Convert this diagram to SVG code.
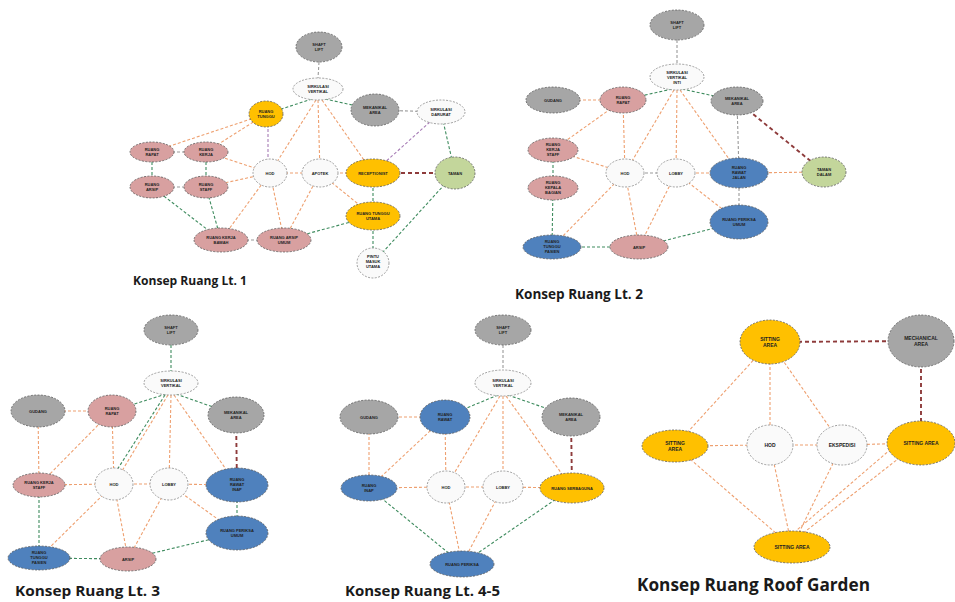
<svg xmlns="http://www.w3.org/2000/svg" width="955" height="602" viewBox="0 0 955 602">
<style>
.bg{fill:#ffffff}
ellipse{stroke:#5a5a5a;stroke-width:0.8;stroke-dasharray:2 1.4}
.g{fill:#a6a6a6}
.p{fill:#d8a0a0}
.y{fill:#ffc000}
.b{fill:#4f81bd}
.gr{fill:#c3d69b}
.w{fill:#fafafa;stroke:#888}
line{fill:none;stroke-width:1.1;stroke-dasharray:3 2}
.eo{stroke:#eea070}
.eg{stroke:#3f8c5f}
.ex{stroke:#9a9a9a}
.er{stroke:#8e3b3b;stroke-width:1.9;stroke-dasharray:4 3}
.ep{stroke:#a67bb5}
.t{font-family:"Liberation Sans",Arial,sans-serif;font-size:4px;fill:#222;text-anchor:middle;font-weight:bold}
.tr{font-family:"Liberation Sans",Arial,sans-serif;font-size:5px;fill:#222;text-anchor:middle;font-weight:bold}
.lbl{font-family:"Open Sans","Liberation Sans",Arial,sans-serif;font-weight:bold;fill:#1a1a1a}
</style>
<rect class="bg" width="955" height="602"/>

<g id="connectors">
<!-- Lt 1 -->
<line class="ex" x1="319" y1="62" x2="318" y2="78"/>
<line class="eg" x1="312" y1="99" x2="266" y2="114"/>
<line class="eg" x1="325" y1="99" x2="375" y2="110"/>
<line class="eo" x1="316" y1="100" x2="270" y2="173"/>
<line class="eo" x1="318" y1="100" x2="320" y2="173"/>
<line class="eo" x1="322" y1="100" x2="373" y2="173"/>
<line class="ex" x1="375" y1="110" x2="441" y2="112"/>
<line class="ep" x1="441" y1="112" x2="373" y2="173"/>
<line class="eg" x1="441" y1="112" x2="455" y2="173"/>
<line class="eo" x1="266" y1="114" x2="152" y2="152"/>
<line class="eo" x1="266" y1="114" x2="206" y2="152"/>
<line class="ep" x1="268" y1="114" x2="268" y2="173"/>
<line class="ex" x1="152" y1="152" x2="206" y2="152"/>
<line class="eg" x1="152" y1="152" x2="152" y2="187"/>
<line class="eg" x1="206" y1="152" x2="206" y2="187"/>
<line class="ex" x1="152" y1="187" x2="206" y2="187"/>
<line class="eo" x1="206" y1="152" x2="270" y2="173"/>
<line class="eo" x1="206" y1="187" x2="270" y2="173"/>
<line class="eo" x1="270" y1="173" x2="320" y2="173"/>
<line class="eo" x1="320" y1="173" x2="373" y2="173"/>
<line class="er" x1="373" y1="173" x2="455" y2="173"/>
<line class="eg" x1="373" y1="173" x2="373" y2="216"/>
<line class="eg" x1="373" y1="216" x2="373" y2="263"/>
<line class="eg" x1="455" y1="173" x2="373" y2="263"/>
<line class="eg" x1="373" y1="216" x2="284" y2="240"/>
<line class="eg" x1="152" y1="187" x2="221" y2="240"/>
<line class="eg" x1="206" y1="187" x2="221" y2="240"/>
<line class="eo" x1="270" y1="173" x2="221" y2="240"/>
<line class="eo" x1="270" y1="173" x2="284" y2="240"/>
<line class="eo" x1="320" y1="173" x2="284" y2="240"/>
<line class="eo" x1="320" y1="173" x2="373" y2="216"/>
<line class="ex" x1="221" y1="240" x2="284" y2="240"/>

<!-- Lt 2 -->
<line class="ex" x1="677" y1="40" x2="677" y2="64"/>
<line class="eg" x1="672" y1="89" x2="623" y2="100"/>
<line class="eg" x1="682" y1="89" x2="737" y2="101"/>
<line class="eo" x1="674" y1="90" x2="625" y2="173"/>
<line class="eo" x1="677" y1="90" x2="676" y2="173"/>
<line class="eo" x1="680" y1="90" x2="739" y2="173"/>
<line class="eo" x1="553" y1="100" x2="623" y2="100"/>
<line class="eo" x1="623" y1="100" x2="553" y2="150"/>
<line class="eo" x1="623" y1="100" x2="625" y2="173"/>
<line class="ex" x1="737" y1="101" x2="739" y2="173"/>
<line class="er" x1="737" y1="101" x2="824" y2="172"/>
<line class="eg" x1="553" y1="150" x2="553" y2="188"/>
<line class="eg" x1="553" y1="188" x2="552" y2="247"/>
<line class="eo" x1="553" y1="150" x2="625" y2="173"/>
<line class="ex" x1="625" y1="173" x2="676" y2="173"/>
<line class="eo" x1="676" y1="173" x2="739" y2="173"/>
<line class="eo" x1="739" y1="173" x2="824" y2="172"/>
<line class="ex" x1="739" y1="173" x2="739" y2="222"/>
<line class="eo" x1="625" y1="173" x2="552" y2="247"/>
<line class="eo" x1="625" y1="173" x2="639" y2="247"/>
<line class="eo" x1="676" y1="173" x2="639" y2="247"/>
<line class="eo" x1="676" y1="173" x2="739" y2="222"/>
<line class="eg" x1="552" y1="247" x2="639" y2="247"/>
<line class="eg" x1="639" y1="247" x2="739" y2="222"/>

<!-- Lt 3 -->
<line class="eg" x1="171" y1="345" x2="171" y2="371"/>
<line class="eg" x1="166" y1="394" x2="112" y2="411"/>
<line class="eg" x1="176" y1="394" x2="236" y2="415"/>
<line class="eo" x1="168" y1="395" x2="114" y2="484"/>
<line class="eg" x1="165" y1="395" x2="108" y2="484"/>
<line class="eo" x1="171" y1="395" x2="169" y2="484"/>
<line class="eo" x1="174" y1="395" x2="237" y2="485"/>
<line class="eo" x1="38" y1="411" x2="112" y2="411"/>
<line class="eo" x1="38" y1="411" x2="39" y2="485"/>
<line class="eo" x1="112" y1="411" x2="39" y2="485"/>
<line class="eo" x1="112" y1="411" x2="114" y2="484"/>
<line class="er" x1="236" y1="415" x2="237" y2="485"/>
<line class="eo" x1="39" y1="485" x2="114" y2="484"/>
<line class="eo" x1="114" y1="484" x2="169" y2="484"/>
<line class="eo" x1="169" y1="484" x2="237" y2="485"/>
<line class="eg" x1="39" y1="485" x2="39" y2="558"/>
<line class="eo" x1="114" y1="484" x2="39" y2="558"/>
<line class="eo" x1="114" y1="484" x2="128" y2="559"/>
<line class="eo" x1="169" y1="484" x2="128" y2="559"/>
<line class="eo" x1="169" y1="484" x2="237" y2="533"/>
<line class="eg" x1="237" y1="485" x2="237" y2="533"/>
<line class="eg" x1="39" y1="558" x2="128" y2="559"/>
<line class="eg" x1="128" y1="559" x2="237" y2="533"/>

<!-- Lt 4-5 -->
<line class="ex" x1="503" y1="345" x2="503" y2="370"/>
<line class="eg" x1="498" y1="395" x2="445" y2="417"/>
<line class="eg" x1="508" y1="395" x2="571" y2="417"/>
<line class="eo" x1="500" y1="396" x2="446" y2="487"/>
<line class="eo" x1="503" y1="396" x2="503" y2="487"/>
<line class="eo" x1="506" y1="396" x2="572" y2="488"/>
<line class="eo" x1="369" y1="417" x2="445" y2="417"/>
<line class="eo" x1="369" y1="417" x2="369" y2="488"/>
<line class="eo" x1="445" y1="417" x2="369" y2="488"/>
<line class="eo" x1="445" y1="417" x2="446" y2="487"/>
<line class="er" x1="571" y1="417" x2="572" y2="488"/>
<line class="eo" x1="369" y1="488" x2="446" y2="487"/>
<line class="eo" x1="446" y1="487" x2="503" y2="487"/>
<line class="eo" x1="503" y1="487" x2="572" y2="488"/>
<line class="eg" x1="369" y1="488" x2="462" y2="564"/>
<line class="eo" x1="446" y1="487" x2="462" y2="564"/>
<line class="eo" x1="503" y1="487" x2="462" y2="564"/>
<line class="eg" x1="572" y1="488" x2="462" y2="564"/>

<!-- Roof Garden -->
<line class="er" x1="770" y1="342" x2="921" y2="341"/>
<line class="er" x1="921" y1="341" x2="921" y2="443"/>
<line class="eo" x1="770" y1="342" x2="675" y2="446"/>
<line class="eo" x1="770" y1="342" x2="770" y2="445"/>
<line class="eo" x1="770" y1="342" x2="842" y2="445"/>
<line class="eo" x1="675" y1="446" x2="770" y2="445"/>
<line class="eo" x1="770" y1="445" x2="842" y2="445"/>
<line class="eo" x1="842" y1="445" x2="921" y2="443"/>
<line class="eo" x1="675" y1="446" x2="792" y2="547"/>
<line class="eo" x1="770" y1="445" x2="792" y2="547"/>
<line class="eo" x1="842" y1="445" x2="792" y2="547"/>
<line class="eo" x1="906" y1="436" x2="797" y2="530"/>
<line class="eo" x1="912" y1="448" x2="802" y2="534"/>
</g>

<!-- ===== Lt 1 nodes ===== -->
<g id="l1-shaft"><ellipse class="g" cx="319" cy="47" rx="23" ry="15"/><text class="t" x="319" y="46">SHAFT</text><text class="t" x="319" y="51">LIFT</text></g>
<g id="l1-sirkulasi"><ellipse class="w" cx="318" cy="89" rx="25" ry="11"/><text class="t" x="318" y="88">SIRKULASI</text><text class="t" x="318" y="93">VERTIKAL</text></g>
<g id="l1-tunggu"><ellipse class="y" cx="266" cy="114" rx="17" ry="13"/><text class="t" x="266" y="113">RUANG</text><text class="t" x="266" y="118">TUNGGU</text></g>
<g id="l1-mekanikal"><ellipse class="g" cx="375" cy="110" rx="24" ry="16"/><text class="t" x="375" y="109">MEKANIKAL</text><text class="t" x="375" y="114">AREA</text></g>
<g id="l1-darurat"><ellipse class="w" cx="441" cy="112" rx="24" ry="12"/><text class="t" x="441" y="111">SIRKULASI</text><text class="t" x="441" y="116">DARURAT</text></g>
<g id="l1-p1"><ellipse class="p" cx="152" cy="152" rx="22" ry="10"/><text class="t" x="152" y="151">RUANG</text><text class="t" x="152" y="156">RAPAT</text></g>
<g id="l1-p2"><ellipse class="p" cx="206" cy="152" rx="22" ry="10"/><text class="t" x="206" y="151">RUANG</text><text class="t" x="206" y="156">KERJA</text></g>
<g id="l1-p3"><ellipse class="p" cx="152" cy="187" rx="22" ry="11"/><text class="t" x="152" y="186">RUANG</text><text class="t" x="152" y="191">ARSIP</text></g>
<g id="l1-p4"><ellipse class="p" cx="206" cy="187" rx="22" ry="11"/><text class="t" x="206" y="186">RUANG</text><text class="t" x="206" y="191">STAFF</text></g>
<g id="l1-hod"><ellipse class="w" cx="270" cy="173" rx="17" ry="14"/><text class="t" x="270" y="174.5">HOD</text></g>
<g id="l1-apotek"><ellipse class="w" cx="320" cy="173" rx="18" ry="14"/><text class="t" x="320" y="174.5">APOTEK</text></g>
<g id="l1-recep"><ellipse class="y" cx="373" cy="173" rx="27" ry="14"/><text class="t" x="373" y="174.5">RECEPTIONIST</text></g>
<g id="l1-taman"><ellipse class="gr" cx="455" cy="173" rx="20" ry="16"/><text class="t" x="455" y="174.5">TAMAN</text></g>
<g id="l1-tunggu2"><ellipse class="y" cx="373" cy="216" rx="27" ry="14"/><text class="t" x="373" y="215">RUANG TUNGGU</text><text class="t" x="373" y="220">UTAMA</text></g>
<g id="l1-p5"><ellipse class="p" cx="221" cy="240" rx="27" ry="12"/><text class="t" x="221" y="239">RUANG KERJA</text><text class="t" x="221" y="244">BAWAH</text></g>
<g id="l1-p6"><ellipse class="p" cx="284" cy="240" rx="27" ry="12"/><text class="t" x="284" y="239">RUANG ARSIP</text><text class="t" x="284" y="244">UMUM</text></g>
<g id="l1-entry"><ellipse class="w" cx="373" cy="263" rx="16" ry="15"/><text class="t" x="373" y="258">PINTU</text><text class="t" x="373" y="263">MASUK</text><text class="t" x="373" y="268">UTAMA</text></g>

<!-- ===== Lt 2 nodes ===== -->
<g id="l2-shaft"><ellipse class="g" cx="677" cy="25" rx="27" ry="15"/><text class="t" x="677" y="24">SHAFT</text><text class="t" x="677" y="29">LIFT</text></g>
<g id="l2-sirkulasi"><ellipse class="w" cx="677" cy="77" rx="27" ry="13"/><text class="t" x="677" y="74">SIRKULASI</text><text class="t" x="677" y="79">VERTIKAL</text><text class="t" x="677" y="84">INTI</text></g>
<g id="l2-gl"><ellipse class="g" cx="553" cy="100" rx="27" ry="13"/><text class="t" x="553" y="101.5">GUDANG</text></g>
<g id="l2-pt"><ellipse class="p" cx="623" cy="100" rx="23" ry="13"/><text class="t" x="623" y="99">RUANG</text><text class="t" x="623" y="104">RAPAT</text></g>
<g id="l2-gr"><ellipse class="g" cx="737" cy="101" rx="26" ry="14"/><text class="t" x="737" y="100">MEKANIKAL</text><text class="t" x="737" y="105">AREA</text></g>
<g id="l2-p1"><ellipse class="p" cx="553" cy="150" rx="25" ry="12"/><text class="t" x="553" y="146">RUANG</text><text class="t" x="553" y="151">KERJA</text><text class="t" x="553" y="156">STAFF</text></g>
<g id="l2-p2"><ellipse class="p" cx="553" cy="188" rx="25" ry="12"/><text class="t" x="553" y="184">RUANG</text><text class="t" x="553" y="189">KEPALA</text><text class="t" x="553" y="194">BAGIAN</text></g>
<g id="l2-hod"><ellipse class="w" cx="625" cy="173" rx="19" ry="14"/><text class="t" x="625" y="174.5">HOD</text></g>
<g id="l2-apotek"><ellipse class="w" cx="676" cy="173" rx="19" ry="14"/><text class="t" x="676" y="174.5">LOBBY</text></g>
<g id="l2-b1"><ellipse class="b" cx="739" cy="173" rx="29" ry="15"/><text class="t" x="739" y="169">RUANG</text><text class="t" x="739" y="174">RAWAT</text><text class="t" x="739" y="179">JALAN</text></g>
<g id="l2-green"><ellipse class="gr" cx="824" cy="172" rx="22" ry="15"/><text class="t" x="824" y="171">TAMAN</text><text class="t" x="824" y="176">DALAM</text></g>
<g id="l2-b2"><ellipse class="b" cx="739" cy="222" rx="29" ry="17"/><text class="t" x="739" y="221">RUANG PERIKSA</text><text class="t" x="739" y="226">UMUM</text></g>
<g id="l2-b3"><ellipse class="b" cx="552" cy="247" rx="29" ry="12"/><text class="t" x="552" y="243">RUANG</text><text class="t" x="552" y="248">TUNGGU</text><text class="t" x="552" y="253">PASIEN</text></g>
<g id="l2-p3"><ellipse class="p" cx="639" cy="247" rx="29" ry="12"/><text class="t" x="639" y="248.5">ARSIP</text></g>

<!-- ===== Lt 3 nodes ===== -->
<g id="l3-shaft"><ellipse class="g" cx="171" cy="330" rx="27" ry="15"/><text class="t" x="171" y="329">SHAFT</text><text class="t" x="171" y="334">LIFT</text></g>
<g id="l3-sirkulasi"><ellipse class="w" cx="171" cy="383" rx="27" ry="12"/><text class="t" x="171" y="382">SIRKULASI</text><text class="t" x="171" y="387">VERTIKAL</text></g>
<g id="l3-gl"><ellipse class="g" cx="38" cy="411" rx="27" ry="16"/><text class="t" x="38" y="412.5">GUDANG</text></g>
<g id="l3-pt"><ellipse class="p" cx="112" cy="411" rx="24" ry="16"/><text class="t" x="112" y="410">RUANG</text><text class="t" x="112" y="415">RAPAT</text></g>
<g id="l3-gr"><ellipse class="g" cx="236" cy="415" rx="28" ry="18"/><text class="t" x="236" y="414">MEKANIKAL</text><text class="t" x="236" y="419">AREA</text></g>
<g id="l3-pl"><ellipse class="p" cx="39" cy="485" rx="26" ry="12"/><text class="t" x="39" y="484">RUANG KERJA</text><text class="t" x="39" y="489">STAFF</text></g>
<g id="l3-hod"><ellipse class="w" cx="114" cy="484" rx="19" ry="16"/><text class="t" x="114" y="485.5">HOD</text></g>
<g id="l3-lobby"><ellipse class="w" cx="169" cy="484" rx="19" ry="16"/><text class="t" x="169" y="485.5">LOBBY</text></g>
<g id="l3-b1"><ellipse class="b" cx="237" cy="485" rx="31" ry="17"/><text class="t" x="237" y="481">RUANG</text><text class="t" x="237" y="486">RAWAT</text><text class="t" x="237" y="491">INAP</text></g>
<g id="l3-b2"><ellipse class="b" cx="237" cy="533" rx="31" ry="17"/><text class="t" x="237" y="532">RUANG PERIKSA</text><text class="t" x="237" y="537">UMUM</text></g>
<g id="l3-b3"><ellipse class="b" cx="39" cy="558" rx="31" ry="12"/><text class="t" x="39" y="554">RUANG</text><text class="t" x="39" y="559">TUNGGU</text><text class="t" x="39" y="564">PASIEN</text></g>
<g id="l3-pb"><ellipse class="p" cx="128" cy="559" rx="28" ry="12"/><text class="t" x="128" y="560.5">ARSIP</text></g>

<!-- ===== Lt 4-5 nodes ===== -->
<g id="l4-shaft"><ellipse class="g" cx="503" cy="330" rx="28" ry="15"/><text class="t" x="503" y="329">SHAFT</text><text class="t" x="503" y="334">LIFT</text></g>
<g id="l4-sirkulasi"><ellipse class="w" cx="503" cy="383" rx="28" ry="13"/><text class="t" x="503" y="382">SIRKULASI</text><text class="t" x="503" y="387">VERTIKAL</text></g>
<g id="l4-gl"><ellipse class="g" cx="369" cy="417" rx="29" ry="17"/><text class="t" x="369" y="418.5">GUDANG</text></g>
<g id="l4-bt"><ellipse class="b" cx="445" cy="417" rx="25" ry="17"/><text class="t" x="445" y="416">RUANG</text><text class="t" x="445" y="421">RAWAT</text></g>
<g id="l4-gr"><ellipse class="g" cx="571" cy="417" rx="29" ry="19"/><text class="t" x="571" y="416">MEKANIKAL</text><text class="t" x="571" y="421">AREA</text></g>
<g id="l4-bl"><ellipse class="b" cx="369" cy="488" rx="28" ry="13"/><text class="t" x="369" y="487">RUANG</text><text class="t" x="369" y="492">INAP</text></g>
<g id="l4-hod"><ellipse class="w" cx="446" cy="487" rx="19" ry="16"/><text class="t" x="446" y="488.5">HOD</text></g>
<g id="l4-lobby"><ellipse class="w" cx="503" cy="487" rx="20" ry="16"/><text class="t" x="503" y="488.5">LOBBY</text></g>
<g id="l4-y"><ellipse class="y" cx="572" cy="488" rx="32" ry="15"/><text class="t" x="572" y="489.5">RUANG SERBAGUNA</text></g>
<g id="l4-bb"><ellipse class="b" cx="462" cy="564" rx="32" ry="13"/><text class="t" x="462" y="565.5">RUANG PERIKSA</text></g>

<!-- ===== Roof Garden nodes ===== -->
<g id="rg-top"><ellipse class="y" cx="770" cy="342" rx="30" ry="22"/><text class="tr" x="770" y="341">SITTING</text><text class="tr" x="770" y="347">AREA</text></g>
<g id="rg-mech"><ellipse class="g" cx="921" cy="341" rx="33" ry="26"/><text class="tr" x="921" y="340">MECHANICAL</text><text class="tr" x="921" y="346">AREA</text></g>
<g id="rg-left"><ellipse class="y" cx="675" cy="446" rx="33" ry="16"/><text class="tr" x="675" y="445">SITTING</text><text class="tr" x="675" y="451">AREA</text></g>
<g id="rg-hod"><ellipse class="w" cx="770" cy="445" rx="23" ry="20"/><text class="tr" x="770" y="447">HOD</text></g>
<g id="rg-eks"><ellipse class="w" cx="842" cy="445" rx="25" ry="20"/><text class="tr" x="842" y="447">EKSPEDISI</text></g>
<g id="rg-right"><ellipse class="y" cx="921" cy="443" rx="34" ry="22"/><text class="tr" x="921" y="445">SITTING AREA</text></g>
<g id="rg-bottom"><ellipse class="y" cx="792" cy="547" rx="38" ry="16"/><text class="tr" x="792" y="549">SITTING AREA</text></g>

<!-- Labels -->
<text class="lbl" x="133" y="285" font-size="12.5" textLength="114" lengthAdjust="spacingAndGlyphs">Konsep Ruang Lt. 1</text>
<text class="lbl" x="515" y="299" font-size="13.5" textLength="128" lengthAdjust="spacingAndGlyphs">Konsep Ruang Lt. 2</text>
<text class="lbl" x="15" y="596" font-size="14" textLength="145" lengthAdjust="spacingAndGlyphs">Konsep Ruang Lt. 3</text>
<text class="lbl" x="345" y="596" font-size="14" textLength="155" lengthAdjust="spacingAndGlyphs">Konsep Ruang Lt. 4-5</text>
<text class="lbl" x="637" y="591" font-size="18" textLength="233" lengthAdjust="spacingAndGlyphs">Konsep Ruang Roof Garden</text>
</svg>
